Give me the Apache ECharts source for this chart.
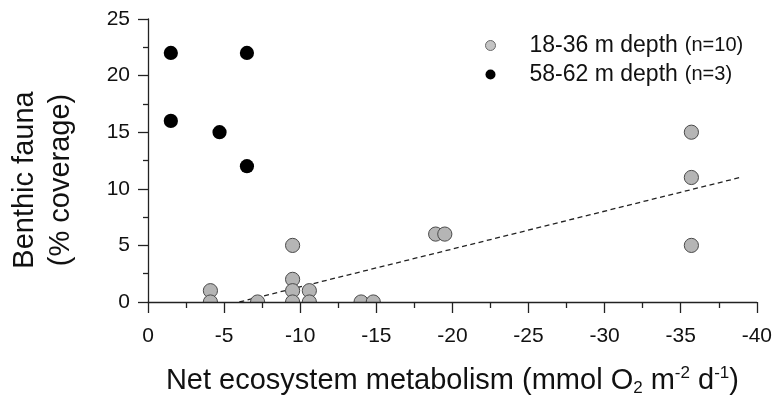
<!DOCTYPE html>
<html>
<head>
<meta charset="utf-8">
<script src="https://cdn.jsdelivr.net/npm/echarts@6/dist/echarts.min.js"></script>
<style>html,body{margin:0;padding:0;background:#fff}#c{width:775px;height:402px}</style>
</head>
<body>
<div id="c"></div>
<script>
// Data
const shallowX = [-4.1, -4.1, -7.2, -9.5, -9.5, -9.5, -9.5, -10.6, -10.6, -14.0, -14.8, -18.9, -19.5, -35.7, -35.7, -35.7];
const shallowY = [1, 0, 0, 5, 2, 1, 0, 1, 0, 0, 0, 6, 6, 15, 11, 5];
const deepX = [-1.5, -6.5, -1.5, -4.7, -6.5];
const deepY = [22, 22, 16, 15, 12];
const trendX = [-6.0, -38.9];
const trendY = [0, 11.0];
const xTickLabels = ['0', '-5', '-10', '-15', '-20', '-25', '-30', '-35', '-40'];
const yTickLabels = ['0', '5', '10', '15', '20', '25'];
const legendNames = ['18-36 m depth', '58-62 m depth'];
const legendCounts = ['(n=10)', '(n=3)'];

const FONT = '"Liberation Sans", Arial, sans-serif';
const zip = (xs, ys) => xs.map((x, i) => [x, ys[i]]);

const GRAY = '#b5b5b5', GRAY_EDGE = '#4a4a4a', BLACK = '#000';

function dotRenderer(fill, stroke, lw) {
  return function (params, api) {
    const p = api.coord([api.value(0), api.value(1)]);
    return {
      type: 'circle',
      shape: {cx: p[0], cy: p[1], r: 7.1},
      style: {fill: fill, stroke: stroke, lineWidth: lw}
    };
  };
}

const chart = echarts.init(document.getElementById('c'), null, {renderer: 'canvas'});
chart.setOption({
  animation: false,
  backgroundColor: '#fff',
  textStyle: {fontFamily: FONT},
  grid: {left: 148, right: 18, top: 19, bottom: 99, containLabel: false},
  legend: {
    orient: 'vertical',
    left: 480, top: 29,
    itemWidth: 10, itemHeight: 10,
    itemGap: 6,
    icon: 'circle',
    data: [
      {name: legendNames[0], itemStyle: {color: '#c4c4c4', borderColor: '#6a6a6a', borderWidth: 1}},
      {name: legendNames[1], itemStyle: {color: BLACK, borderColor: BLACK, borderWidth: 0}}
    ],
    formatter: function (name) {
      const i = legendNames.indexOf(name);
      return '{a|' + name + '}{gap|}{b|' + legendCounts[i] + '}';
    },
    textStyle: {
      padding: [0, 0, 0, 29],
      rich: {
        a: {fontFamily: FONT, fontSize: 23, color: '#111', lineHeight: 26},
        gap: {width: 7, height: 1},
        b: {fontFamily: FONT, fontSize: 20, color: '#111', lineHeight: 26}
      }
    }
  },
  xAxis: {
    type: 'value', inverse: true, min: -40, max: 0, interval: 5,
    z: 10,
    axisLine: {show: true, onZero: false, lineStyle: {color: '#222', width: 1.3}},
    axisTick: {show: true, length: 11, lineStyle: {color: '#222', width: 1.3}},
    minorTick: {show: true, splitNumber: 2, length: 6, lineStyle: {color: '#222', width: 1.3}},
    splitLine: {show: false},
    axisLabel: {
      fontSize: 21, color: '#111', margin: 24, fontFamily: FONT,
      formatter: function (v) { return xTickLabels[Math.round(-v / 5)]; }
    },
    name: 'Net ecosystem metabolism (mmol O{sub|2} m{sup|-2} d{sup|-1})',
    nameLocation: 'middle',
    nameGap: 63,
    nameTextStyle: {
      fontSize: 29, color: '#111', fontFamily: FONT,
      rich: {
        sub: {fontSize: 17, color: '#111', fontFamily: FONT, verticalAlign: 'bottom', padding: [15, 0, 0, 0]},
        sup: {fontSize: 17, color: '#111', fontFamily: FONT, verticalAlign: 'top', padding: [0, 0, 12, 0]}
      }
    }
  },
  yAxis: {
    type: 'value', min: 0, max: 25, interval: 5,
    z: 10,
    axisLine: {show: true, onZero: false, lineStyle: {color: '#222', width: 1.3}},
    axisTick: {show: true, length: 10, lineStyle: {color: '#222', width: 1.3}},
    minorTick: {show: true, splitNumber: 2, length: 5, lineStyle: {color: '#222', width: 1.3}},
    splitLine: {show: false},
    axisLabel: {
      fontSize: 21, color: '#111', margin: 18, fontFamily: FONT,
      formatter: function (v) { return yTickLabels[Math.round(v / 5)]; }
    }
  },
  graphic: [
    {
      type: 'text', silent: true,
      x: 43, y: 180, rotation: Math.PI / 2,
      style: {
        text: 'Benthic fauna\n(% coverage)',
        fontFamily: FONT, fontSize: 29, fill: '#111',
        align: 'center', verticalAlign: 'middle', lineHeight: 36
      }
    }
  ],
  series: [
    {
      name: 'trend', type: 'line', z: 1,
      data: zip(trendX, trendY),
      symbol: 'none', silent: true,
      lineStyle: {color: '#222', width: 1.3, type: [5, 3.5]}
    },
    {
      name: legendNames[0], type: 'custom', z: 3,
      data: zip(shallowX, shallowY),
      encode: {x: 0, y: 1},
      itemStyle: {color: GRAY, borderColor: GRAY_EDGE},
      renderItem: dotRenderer(GRAY, GRAY_EDGE, 1)
    },
    {
      name: legendNames[1], type: 'custom', z: 3,
      data: zip(deepX, deepY),
      encode: {x: 0, y: 1},
      itemStyle: {color: BLACK},
      renderItem: dotRenderer(BLACK, null, 0)
    },
    {
      // white band below the plot area so marks sitting on the x axis show only above it
      name: 'mask', type: 'custom', z: 5, silent: true,
      data: [[0, 0]],
      renderItem: function (params, api) {
        const cs = params.coordSys;
        return {
          type: 'rect',
          shape: {x: cs.x - 1, y: cs.y + cs.height + 0.7, width: cs.width + 2, height: 16},
          style: {fill: '#fff'}
        };
      }
    }
  ]
});
</script>
</body>
</html>
